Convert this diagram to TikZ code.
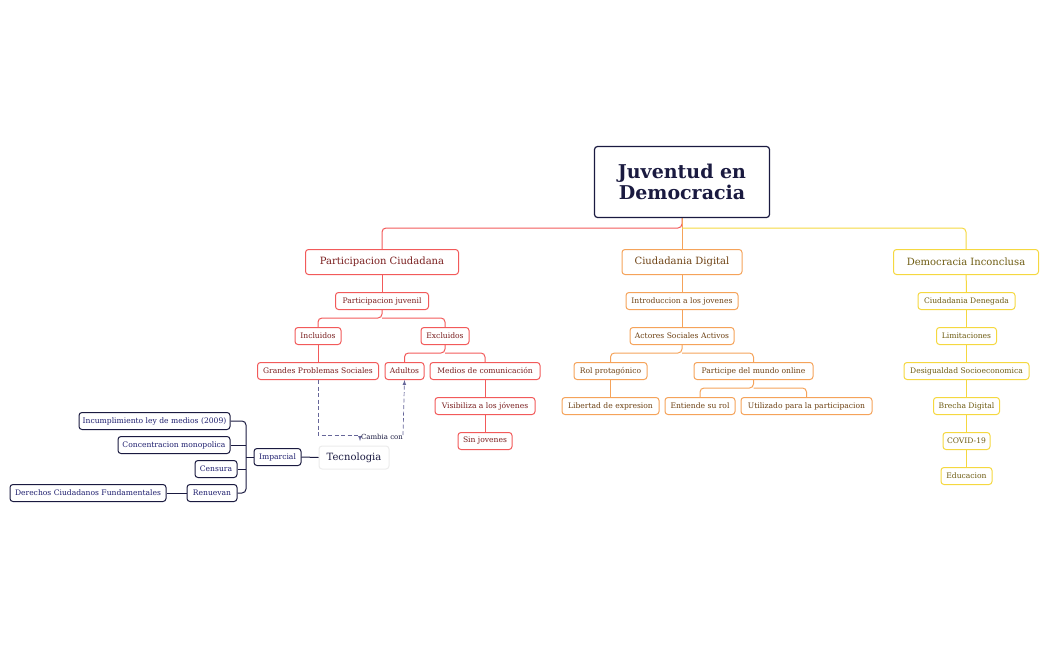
\documentclass[tikz,border=0pt]{standalone}
\usepackage{fontspec}
\setmainfont{DejaVu Serif}
\begin{document}
\begin{tikzpicture}[x=1pt,y=-1pt,
  base/.style={draw,rounded corners=3pt,line width=1pt,fill=white,inner sep=0pt,minimum height=17pt,font=\fontsize{7.6}{9}\selectfont},
  rn/.style={base,draw=cR,text=tR},
  on/.style={base,draw=cO,text=tO},
  yn/.style={base,draw=cY,text=tY},
  nn/.style={base,draw=cN,text=tN},
  l1/.style={minimum height=25pt,font=\fontsize{10}{12}\selectfont},
  rl/.style={draw=cR,line width=1pt,rounded corners=4pt},
  ol/.style={draw=cO,line width=1pt,rounded corners=4pt},
  yl/.style={draw=cY,line width=1pt,rounded corners=4pt},
  nl/.style={draw=cN,line width=1pt,rounded corners=4pt},
  dl/.style={draw=gray!80!blue,line width=0.7pt,dash pattern=on 4pt off 2.5pt,-latex}]
\definecolor{cR}{HTML}{F25A5A}\definecolor{tR}{HTML}{7A1E1E}
\definecolor{cO}{HTML}{F5A35A}\definecolor{tO}{HTML}{6E4214}
\definecolor{cY}{HTML}{F5D840}\definecolor{tY}{HTML}{6E5C12}
\definecolor{cN}{HTML}{1A1A40}\definecolor{tN}{HTML}{1E1E6E}
\useasboundingbox (0,0) rectangle (1050,650);
% connectors first
\draw[rl] (682,218) -- (682,228) -- (382,228) -- (382,250);
\draw[ol] (682,218) -- (682,250);
\draw[yl] (682,228) -- (966,228) -- (966,250);
% root
\node[draw=cN,line width=1.2pt,rounded corners=3pt,fill=white,minimum width=175pt,minimum height=71pt,align=center,text=cN,font=\fontsize{19}{21}\selectfont\bfseries] (root) at (682,182) {Juventud en\\Democracia};
\node[rn,l1,minimum width=153pt] (pc) at (382,262) {Participacion Ciudadana};
\node[on,l1,minimum width=120pt] (cd) at (682,262) {Ciudadania Digital};
\node[yn,l1,minimum width=145pt] (di) at (966,262) {Democracia Inconclusa};
% red
\node[rn,minimum width=93pt] (pj) at (382,301) {Participacion juvenil};
\node[rn,minimum width=46pt] (inc) at (318,336) {Incluidos};
\node[rn,minimum width=48pt] (exc) at (445,336) {Excluidos};
\node[rn,minimum width=121pt] (gps) at (318,371) {Grandes Problemas Sociales};
\node[rn,minimum width=39pt] (adu) at (404.5,371) {Adultos};
\node[rn,minimum width=110pt] (med) at (485,371) {Medios de comunicación};
\node[rn,minimum width=100pt] (vis) at (485,406) {Visibiliza a los jóvenes};
\node[rn,minimum width=54pt] (sin) at (485,441) {Sin jovenes};
\draw[rl] (pc) -- (pj);
\draw[rl] (pj.south) -- (382,318) -- (318,318) -- (inc.north);
\draw[rl] (382,318) -- (445,318) -- (exc.north);
\draw[rl] (inc) -- (gps);
\draw[rl] (exc.south) -- (445,353) -- (404.5,353) -- (adu.north);
\draw[rl] (445,353) -- (485,353) -- (med.north);
\draw[rl] (med) -- (vis); \draw[rl] (vis) -- (sin);
% tecnologia
\node[base,draw=gray!15,text=cN,font=\fontsize{10}{12}\selectfont,minimum width=70pt,minimum height=23pt] (tec) at (354,457.5) {Tecnologia};
\coordinate (d1) at (318,435);
\coordinate (d2) at (360,435);
\coordinate (d3) at (403,435);
\draw[dl] (gps.south) -- (d1) -- (d2) -- (360,441);
\draw[dl] (d3) -- (adu.south);
\node[font=\fontsize{7}{8}\selectfont,text=cN] (cam) at (382,437) {Cambia con};
% navy
\node[nn,minimum width=47pt] (imp) at (277.5,457) {Imparcial};
\node[nn,minimum width=151pt] (i1) at (154.5,421) {Incumplimiento ley de medios (2009)};
\node[nn,minimum width=112pt] (i2) at (174,445) {Concentracion monopolica};
\node[nn,minimum width=42pt] (i3) at (216,469) {Censura};
\node[nn,minimum width=50pt] (i4) at (212,493) {Renuevan};
\node[nn,minimum width=156pt] (i5) at (88,493) {Derechos Ciudadanos Fundamentales};
\draw[nl] (tec.west) -- (imp.east);
\draw[nl] (imp.west) -- (246,457);
\draw[nl] (i1.east) -- (246,421) -- (246,493) -- (i4.east);
\draw[nl] (i2.east) -- (246,445);
\draw[nl] (i3.east) -- (246,469);
\draw[nl] (i4.west) -- (i5.east);
% orange
\node[on,minimum width=112pt] (o1) at (682,301) {Introduccion a los jovenes};
\node[on,minimum width=104pt] (o2) at (682,336) {Actores Sociales Activos};
\node[on,minimum width=73pt] (o3) at (610.5,371) {Rol protagónico};
\node[on,minimum width=119pt] (o4) at (753.5,371) {Participe del mundo online};
\node[on,minimum width=97pt] (o5) at (610.5,406) {Libertad de expresion};
\node[on,minimum width=70pt] (o6) at (700,406) {Entiende su rol};
\node[on,minimum width=131pt] (o7) at (806.5,406) {Utilizado para la participacion};
\draw[ol] (cd) -- (o1); \draw[ol] (o1) -- (o2);
\draw[ol] (o2.south) -- (682,353) -- (610.5,353) -- (o3.north);
\draw[ol] (682,353) -- (753.5,353) -- (o4.north);
\draw[ol] (o3) -- (o5);
\draw[ol] (o4.south) -- (753.5,388) -- (700,388) -- (o6.north);
\draw[ol] (753.5,388) -- (806.5,388) -- (o7.north);
% yellow
\node[yn,minimum width=97pt] (y1) at (966.5,301) {Ciudadania Denegada};
\node[yn,minimum width=60pt] (y2) at (966.5,336) {Limitaciones};
\node[yn,minimum width=125pt] (y3) at (966.5,371) {Desigualdad Socioeconomica};
\node[yn,minimum width=66pt] (y4) at (966.5,406) {Brecha Digital};
\node[yn,minimum width=47pt] (y5) at (966.5,441) {COVID-19};
\node[yn,minimum width=51pt] (y6) at (966.5,476) {Educacion};
\draw[yl] (di) -- (y1); \draw[yl] (y1) -- (y2); \draw[yl] (y2) -- (y3);
\draw[yl] (y3) -- (y4); \draw[yl] (y4) -- (y5); \draw[yl] (y5) -- (y6);
\end{tikzpicture}
\end{document}
